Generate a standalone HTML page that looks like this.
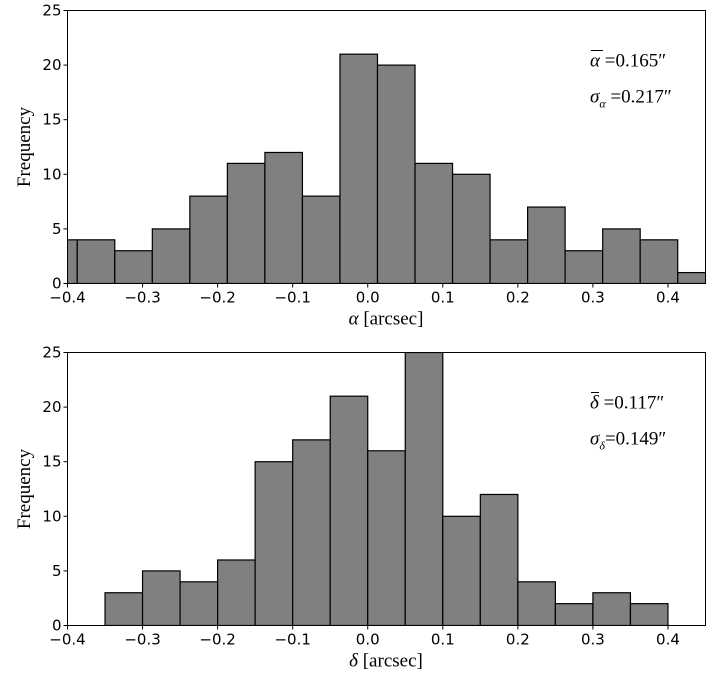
<!DOCTYPE html>
<html><head><meta charset="utf-8"><style>
body{margin:0;background:#fff}
svg text{fill:#000}
.tk{font-family:"DejaVu Sans","Liberation Sans",sans-serif;font-size:15px}
.sr{font-family:"Liberation Serif","DejaVu Serif",serif;font-size:19px}
</style></head><body>
<svg id="c" width="707" height="678" xmlns="http://www.w3.org/2000/svg"></svg>
<script>
const alphaStart = -0.437;
const alphaCounts = [4,4,3,5,8,11,12,8,21,20,11,10,4,7,3,5,4,1];
const deltaStart = -0.35;
const deltaCounts = [3,5,4,6,15,17,21,16,25,10,12,4,2,3,2];
const binWidth = 0.05;
const xTicks = [-0.4,-0.3,-0.2,-0.1,0.0,0.1,0.2,0.3,0.4];
const yTicks = [0,5,10,15,20,25];
const NS='http://www.w3.org/2000/svg';
const svg=document.getElementById('c');
function mk(tag,attrs,parent){const e=document.createElementNS(NS,tag);for(const k in attrs)e.setAttribute(k,attrs[k]);(parent||svg).appendChild(e);return e;}
function panel(top,bottom,start,counts,name,xlabel,ann1,ann2,ann1x){
  const L=67.5,R=705.5,xmin=-0.4,xmax=0.45,ymax=25;
  const sx=v=>L+(v-xmin)/(xmax-xmin)*(R-L);
  const sy=v=>bottom-v/ymax*(bottom-top);
  const g=mk('g',{});
  
  
  const clip=mk('clipPath',{id:'clip-'+name},g);
  mk('rect',{x:L,y:top,width:R-L,height:bottom-top},clip);
  const bars=mk('g',{'clip-path':'url(#clip-'+name+')'},g);
  counts.forEach((c,i)=>{
    const x0=sx(start+i*binWidth),x1=sx(start+(i+1)*binWidth);
    const r=mk('rect',{x:x0,y:sy(c),width:x1-x0,height:sy(0)-sy(c),fill:'#808080',stroke:'#000','stroke-width':1.2},bars);
    
    
  });
  const fr=mk('rect',{x:L,y:top,width:R-L,height:bottom-top,fill:'none',stroke:'#000','stroke-width':1},g);
  
  
  xTicks.forEach(t=>{
    const x=sx(t);
    mk('line',{x1:x,x2:x,y1:bottom,y2:bottom+4,stroke:'#000'},g);
    const tx=mk('text',{x:x,y:bottom+19,'text-anchor':'middle',class:'tk'},g);
    tx.textContent=(t<0?'\u2212':'')+Math.abs(t).toFixed(1);
    
    
  });
  yTicks.forEach(t=>{
    const y=sy(t);
    mk('line',{x1:L-4,x2:L,y1:y,y2:y,stroke:'#000'},g);
    const tx=mk('text',{x:L-6,y:y+5,'text-anchor':'end',class:'tk'},g);
    tx.textContent=t;
    
    
  });
  const yl=mk('text',{x:0,y:0,'text-anchor':'middle',class:'sr',transform:'translate(30,'+((top+bottom)/2)+') rotate(-90)'},g);
  yl.textContent='Frequency';
  
  
  const xl=mk('text',{x:386,y:bottom+41,'text-anchor':'middle',class:'sr'},g);
  xl.innerHTML=xlabel;
  
  
  const a1=mk('text',{x:590,y:top+56,class:'sr'},g);
  a1.innerHTML=ann1;
  
  
  mk('line',{x1:591,x2:ann1x,y1:top+40,y2:top+40,stroke:'#000','stroke-width':1},g);
  const a2=mk('text',{x:590,y:top+92,class:'sr'},g);
  a2.innerHTML=ann2;
  
  
}
panel(10.5,283.5,alphaStart,alphaCounts,'alpha','<tspan font-style="italic">α</tspan> [arcsec]',
 '<tspan font-style="italic">α</tspan> =0.165″','<tspan font-style="italic">σ</tspan><tspan font-size="12" dy="5" font-style="italic">α</tspan><tspan dy="-5"> =0.217″</tspan>',603);
panel(352.5,625.5,deltaStart,deltaCounts,'delta','<tspan font-style="italic">δ</tspan> [arcsec]',
 '<tspan font-style="italic">δ</tspan> =0.117″','<tspan font-style="italic">σ</tspan><tspan font-size="12" dy="5" font-style="italic">δ</tspan><tspan dy="-5">=0.149″</tspan>',599);
</script>
</body></html>
